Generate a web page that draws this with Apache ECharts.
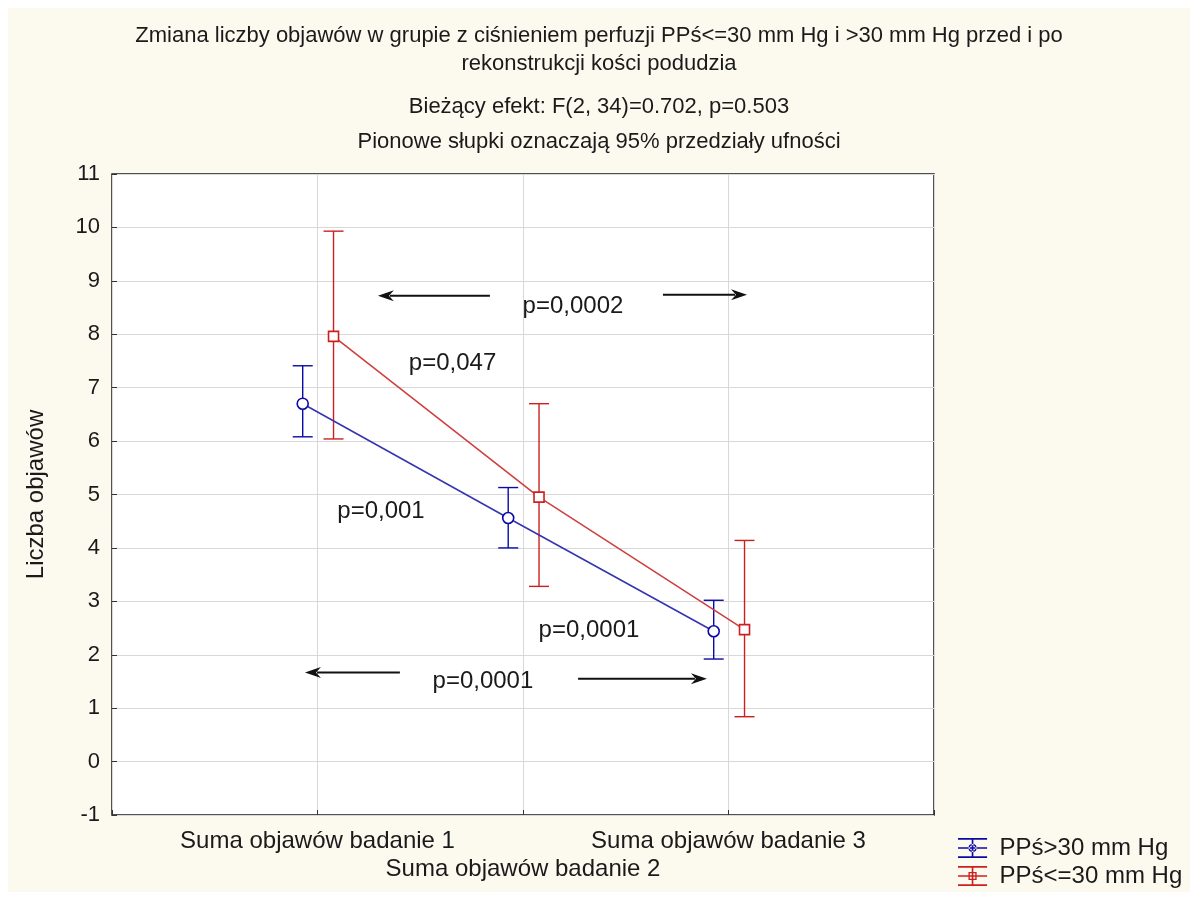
<!DOCTYPE html>
<html>
<head>
<meta charset="utf-8">
<title>Zmiana liczby objawów</title>
<script src="https://cdn.jsdelivr.net/npm/echarts@6/dist/echarts.min.js"></script>
<style>
  html, body { margin: 0; padding: 0; background: #ffffff; }
  #chart { position: absolute; left: 8px; top: 8px; width: 1182px; height: 884px; }
</style>
</head>
<body>
<div id="chart"></div>
<script>
// Measurement occasions (x categories)
const categories = ['Suma objawów badanie 1', 'Suma objawów badanie 2', 'Suma objawów badanie 3'];
// Groups by perfusion pressure
const groupNames = ['PPś>30 mm Hg', 'PPś<=30 mm Hg'];

// Means and 95% confidence limits, group PPś>30 mm Hg
const meanHigh  = [6.70, 4.56, 2.44];
const lowerHigh = [6.08, 4.00, 1.92];
const upperHigh = [7.41, 5.13, 3.02];

// Means and 95% confidence limits, group PPś<=30 mm Hg
const meanLow  = [7.96, 4.95, 2.47];
const lowerLow = [6.04, 3.28, 0.84];
const upperLow = [9.93, 6.70, 4.14];

// Value axis range
const yMin = -1;
const yMax = 11;

// Significance notes placed in data coordinates
const noteTexts = ['p=0,047', 'p=0,001', 'p=0,0001', 'p=0,0002', 'p=0,0001'];
const noteX = [1.657, 1.309, 2.321, 2.243, 1.805];
const noteY = [7.46, 4.68, 2.46, 8.52, 1.50];

// Arrows (from -> to) in data coordinates
const arrowFromX = [1.839, 2.681, 1.401, 2.268];
const arrowToX   = [1.294, 3.090, 0.939, 2.895];
const arrowY     = [8.72, 8.74, 1.67, 1.55];

const FONT = '"Liberation Sans", Arial, Helvetica, sans-serif';
const TEXT = '#1a1a1a';
const BLUE = '#0a0aa8';
const BLUE_LINE = '#3636b0';
const RED = '#cc2020';
const RED_LINE = '#d04040';

// the two groups are drawn slightly apart around each category
const groupShift = [-0.072, 0.078];

function points(means, shift) {
  return means.map((m, i) => [i + 1 + shift, m]);
}
function bars(lo, hi, shift) {
  return lo.map((l, i) => [i + 1 + shift, l, hi[i]]);
}

function errorBarRenderer(color) {
  return function (params, api) {
    const x = api.value(0);
    const top = api.coord([x, api.value(2)]);
    const bot = api.coord([x, api.value(1)]);
    const hw = 10;
    const style = { stroke: color, lineWidth: 1.4, fill: null };
    return {
      type: 'group',
      children: [
        { type: 'line', shape: { x1: top[0], y1: top[1], x2: bot[0], y2: bot[1] }, style: style },
        { type: 'line', shape: { x1: top[0] - hw, y1: top[1], x2: top[0] + hw, y2: top[1] }, style: style },
        { type: 'line', shape: { x1: bot[0] - hw, y1: bot[1], x2: bot[0] + hw, y2: bot[1] }, style: style }
      ]
    };
  };
}

function noteRenderer(params, api) {
  const p = api.coord([api.value(0), api.value(1)]);
  return {
    type: 'text',
    x: p[0], y: p[1],
    style: {
      text: noteTexts[params.dataIndex],
      font: '24px ' + FONT,
      fill: TEXT,
      align: 'center',
      verticalAlign: 'middle'
    }
  };
}

function arrowRenderer(params, api) {
  const a = api.coord([api.value(0), api.value(2)]);
  const b = api.coord([api.value(1), api.value(2)]);
  const dir = b[0] > a[0] ? 1 : -1;
  const headLen = 16, headHalf = 5.5;
  const baseX = b[0] - dir * headLen;
  return {
    type: 'group',
    children: [
      { type: 'line', shape: { x1: a[0], y1: a[1], x2: baseX + dir * 4, y2: b[1] },
        style: { stroke: '#111', lineWidth: 2 } },
      { type: 'polygon',
        shape: { points: [[b[0], b[1]], [baseX, b[1] - headHalf], [baseX + dir * 5, b[1]], [baseX, b[1] + headHalf]] },
        style: { fill: '#111' } }
    ]
  };
}

// Legend glyph: whisker caps, line through a marker
const capsPath = 'M0 0H32V1.8H0Z M0 20.2H32V22H0Z M0 10.1H32V11.9H0Z M15.1 0H16.9V22H15.1Z';
const circleIcon = 'path://' + capsPath +
  ' M20.5 11A4.5 4.5 0 1 0 11.5 11A4.5 4.5 0 1 0 20.5 11Z M19 11A3 3 0 1 1 13 11A3 3 0 1 1 19 11Z';
const squareIcon = 'path://' + capsPath +
  ' M11.5 6.5H20.5V15.5H11.5Z M13 8V14H19V8Z';

const chart = echarts.init(document.getElementById('chart'), null, { renderer: 'canvas' });

const titleLines = [
  'Zmiana liczby objawów w grupie z ciśnieniem perfuzji PPś<=30 mm Hg i >30 mm Hg przed i po',
  'rekonstrukcji kości podudzia',
  'Bieżący efekt: F(2, 34)=0.702, p=0.503',
  'Pionowe słupki oznaczają 95% przedziały ufności'
];
const titleTops = [17, 45, 88, 123];

function legendBlock(name, icon, color, top) {
  return {
    orient: 'vertical',
    left: 950,
    top: top,
    itemWidth: 34,
    itemHeight: 20,
    itemGap: 0,
    padding: 0,
    selectedMode: false,
    textStyle: { fontFamily: FONT, fontSize: 24, color: TEXT, padding: [0, 0, 0, 5] },
    data: [{ name: name, icon: icon, itemStyle: { color: color, borderWidth: 0 } }]
  };
}

const option = {
  backgroundColor: '#fcf9ef',
  animation: false,
  title: titleLines.map((t, i) => ({
    text: t,
    left: 'center',
    top: titleTops[i],
    padding: 0,
    textStyle: { fontFamily: FONT, fontSize: 22, fontWeight: 'normal', color: TEXT }
  })),
  legend: [
    legendBlock(groupNames[0], circleIcon, BLUE, 828),
    legendBlock(groupNames[1], squareIcon, RED, 856)
  ],
  grid: {
    left: 104, top: 166, right: 256, bottom: 77,
    show: true,
    backgroundColor: '#ffffff',
    borderColor: '#1a1a1a',
    borderWidth: 1.5
  },
  xAxis: {
    type: 'value',
    min: 0, max: 4, interval: 1,
    axisLine: { show: false, onZero: false },
    axisTick: { show: true, inside: true, length: 5, lineStyle: { color: '#333' } },
    splitLine: { show: true, lineStyle: { color: '#d8d8d8', width: 1 } },
    axisLabel: {
      margin: 12,
      fontFamily: FONT, fontSize: 24, color: TEXT, lineHeight: 28,
      formatter: function (v) {
        if (v === 2) return '\n' + categories[1];
        if (v === 1) return categories[0];
        if (v === 3) return categories[2];
        return '';
      }
    }
  },
  yAxis: {
    type: 'value',
    min: yMin, max: yMax, interval: 1,
    name: 'Liczba objawów',
    nameLocation: 'middle',
    nameRotate: 90,
    nameGap: 64,
    nameTextStyle: { fontFamily: FONT, fontSize: 24, color: TEXT },
    axisLine: { show: false },
    axisTick: { show: true, inside: true, length: 5, lineStyle: { color: '#333' } },
    splitLine: { show: true, lineStyle: { color: '#d8d8d8', width: 1 } },
    axisLabel: { margin: 12, fontFamily: FONT, fontSize: 22, color: TEXT }
  },
  series: [
    {
      name: groupNames[0],
      type: 'custom',
      renderItem: errorBarRenderer(BLUE),
      encode: { x: 0, y: [1, 2] },
      data: bars(lowerHigh, upperHigh, groupShift[0]),
      z: 3, silent: true
    },
    {
      name: groupNames[1],
      type: 'custom',
      renderItem: errorBarRenderer(RED),
      encode: { x: 0, y: [1, 2] },
      data: bars(lowerLow, upperLow, groupShift[1]),
      z: 3, silent: true
    },
    {
      name: groupNames[0],
      type: 'line',
      data: points(meanHigh, groupShift[0]),
      symbol: 'circle',
      symbolSize: 11,
      itemStyle: { color: '#ffffff', borderColor: BLUE, borderWidth: 1.6 },
      lineStyle: { color: BLUE_LINE, width: 1.6 },
      z: 4, silent: true
    },
    {
      name: groupNames[1],
      type: 'line',
      data: points(meanLow, groupShift[1]),
      symbol: 'rect',
      symbolSize: 10,
      itemStyle: { color: '#ffffff', borderColor: RED, borderWidth: 1.6 },
      lineStyle: { color: RED_LINE, width: 1.6 },
      z: 4, silent: true
    },
    {
      name: 'notes',
      type: 'custom',
      renderItem: noteRenderer,
      encode: { x: 0, y: 1 },
      data: noteX.map((x, i) => [x, noteY[i]]),
      z: 5, silent: true
    },
    {
      name: 'arrows',
      type: 'custom',
      renderItem: arrowRenderer,
      encode: { x: [0, 1], y: 2 },
      data: arrowFromX.map((x, i) => [x, arrowToX[i], arrowY[i]]),
      z: 5, silent: true
    }
  ]
};

chart.setOption(option);
</script>
</body>
</html>
